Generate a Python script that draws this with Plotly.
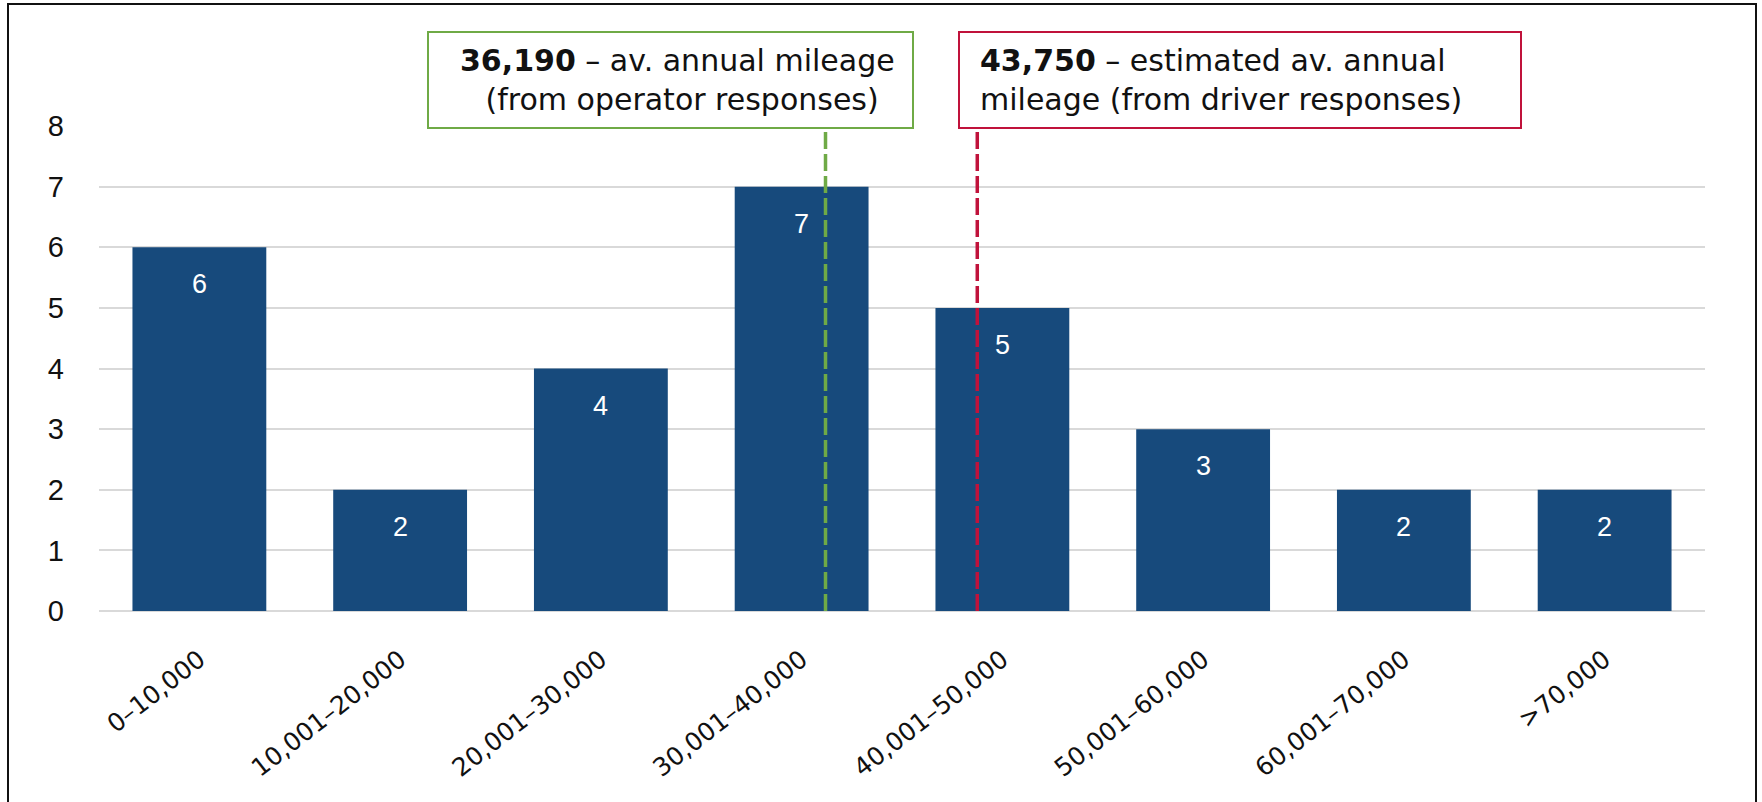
import plotly.graph_objects as go

# Annual mileage bands and number of responses in each band
mileage_bands = ["0–10,000", "10,001–20,000", "20,001–30,000", "30,001–40,000",
                 "40,001–50,000", "50,001–60,000", "60,001–70,000", ">70,000"]
responses = [6, 2, 4, 7, 5, 3, 2, 2]

# Average annual mileage figures marked on the chart
operator_avg = 36190
driver_avg = 43750
band_width = 10000

y_ticks = [0, 1, 2, 3, 4, 5, 6, 7, 8]

W, H = 1762, 802
L, R, T, B = 99, 1705, 126, 611  # plot area edges in pixels

BAR = "#174A7C"
GREEN = "#6FAA46"
RED = "#C0123B"
GRID = "#D9D9D9"
TEXT_FONT = "DejaVu Sans"
NUM_FONT = "Liberation Sans"


def px_x(p):
    return (p - L) / (R - L)


def px_y(p):
    return (B - p) / (B - T)


def band_pos(miles):
    # position on the band axis: each band spans one unit centred on its index
    return miles / band_width - 0.5


xs = list(range(len(mileage_bands)))

fig = go.Figure()
fig.add_trace(go.Bar(
    x=xs, y=responses, marker=dict(color=BAR, line=dict(width=0)),
    hoverinfo="skip", showlegend=False,
))

annotations = []
for xi, v in zip(xs, responses):
    annotations.append(dict(
        x=xi, y=v, xref="x", yref="y", text=str(v), showarrow=False,
        yshift=-37, yanchor="middle",
        font=dict(family=NUM_FONT, size=27, color="white"),
    ))

shapes = [
    # outer frame
    dict(type="rect", xref="paper", yref="paper",
         x0=px_x(8), x1=px_x(1756), y0=px_y(830), y1=px_y(4),
         line=dict(color="#111111", width=2), fillcolor="rgba(0,0,0,0)", layer="above"),
    # average lines
    dict(type="line", xref="x", yref="y",
         x0=band_pos(operator_avg), x1=band_pos(operator_avg), y0=0, y1=7.92,
         line=dict(color=GREEN, width=3.5, dash="17px,5px"), layer="above"),
    dict(type="line", xref="x", yref="y",
         x0=band_pos(driver_avg), x1=band_pos(driver_avg), y0=0, y1=7.92,
         line=dict(color=RED, width=3.5, dash="17px,5px"), layer="above"),
    # callout boxes
    dict(type="rect", xref="paper", yref="paper",
         x0=px_x(428), x1=px_x(913), y0=px_y(128), y1=px_y(32),
         line=dict(color=GREEN, width=2), fillcolor="white", layer="above"),
    dict(type="rect", xref="paper", yref="paper",
         x0=px_x(959), x1=px_x(1521), y0=px_y(128), y1=px_y(32),
         line=dict(color=RED, width=2), fillcolor="white", layer="above"),
]

annotations.append(dict(
    xref="paper", yref="paper", x=px_x(677), y=px_y(80),
    xanchor="center", yanchor="middle", align="center", showarrow=False,
    text=f"<b>{operator_avg:,}</b> – av. annual mileage<br> (from operator responses)",
    font=dict(family=TEXT_FONT, size=30, color="#111111"),
))
annotations.append(dict(
    xref="paper", yref="paper", x=px_x(978), y=px_y(80),
    xanchor="left", yanchor="middle", align="left", showarrow=False,
    text=f"<b>{driver_avg:,}</b> – estimated av. annual<br>mileage (from driver responses)",
    font=dict(family=TEXT_FONT, size=30, color="#111111"),
))

fig.update_layout(
    width=W, height=H,
    margin=dict(l=L, r=W - R, t=T, b=H - B),
    paper_bgcolor="white", plot_bgcolor="white",
    bargap=1 / 3,
    shapes=shapes, annotations=annotations,
    xaxis=dict(
        range=[-0.5, len(mileage_bands) - 0.5],
        tickmode="array", tickvals=xs, ticktext=mileage_bands,
        tickangle=-38, showgrid=False, zeroline=False, showline=False,
        ticks="", ticklabelstandoff=28,
        tickfont=dict(family=TEXT_FONT, size=25, color="#111111"),
    ),
    yaxis=dict(
        range=[0, 8], tickmode="array", tickvals=y_ticks,
        showgrid=True, gridcolor=GRID, gridwidth=2,
        zeroline=True, zerolinecolor=GRID, zerolinewidth=2,
        showline=False, ticks="", ticklabelstandoff=34,
        tickfont=dict(family=NUM_FONT, size=29, color="#111111"),
    ),
)

fig.write_html("out.html")
